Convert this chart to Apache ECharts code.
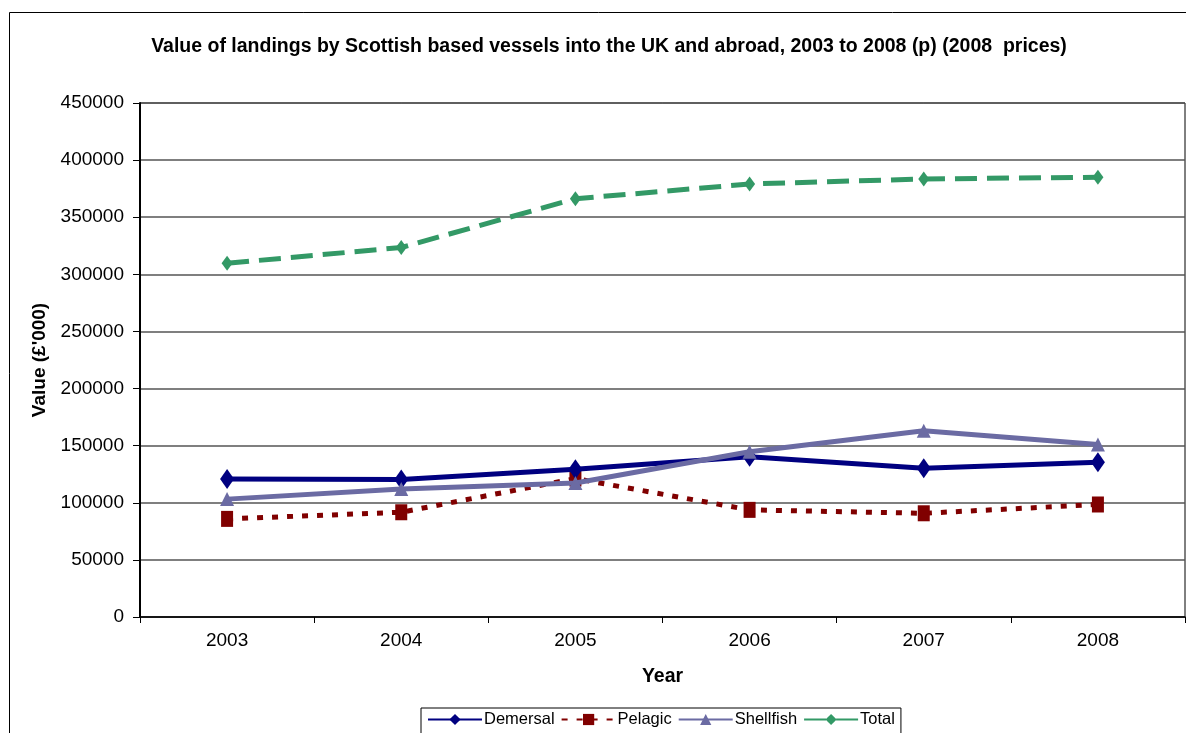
<!DOCTYPE html>
<html>
<head>
<meta charset="utf-8">
<script src="https://cdn.jsdelivr.net/npm/echarts@6/dist/echarts.min.js"></script>
<style>
html,body{margin:0;padding:0;background:#fff;}
#chart{width:1186px;height:733px;}
</style>
</head>
<body>
<div id="chart"></div>
<script>
const years = ['2003','2004','2005','2006','2007','2008'];
const demersal = [120800, 120300, 129400, 140200, 130200, 135500];
const pelagic = [85900, 91700, 121200, 93800, 90800, 98500];
const shellfish = [103200, 112000, 117300, 144600, 163100, 151100];
const total = [309700, 323500, 366200, 379100, 383500, 385000];

const FONT = '"Liberation Sans", Arial, sans-serif';
const chart = echarts.init(document.getElementById('chart'));
chart.setOption({
  animation: false,
  backgroundColor: '#fff',
  textStyle: { fontFamily: FONT },
  title: {
    text: 'Value of landings by Scottish based vessels into the UK and abroad, 2003 to 2008 (p) (2008  prices)',
    left: 604, top: 32, textAlign: 'center',
    textStyle: { fontFamily: FONT, fontSize: 19.5, fontWeight: 'bold', color: '#000' }
  },
  graphic: [{
    type: 'rect', shape: { x: 9.5, y: 12.5, width: 1200, height: 800 },
    style: { fill: 'none', stroke: '#000', lineWidth: 1 }, silent: true, z: -1
  }],
  legend: {
    left: 421, top: 708,
    itemWidth: 54, itemHeight: 14, itemGap: 6,
    borderColor: '#000', borderWidth: 1, padding: [3, 6, 8, 6],
    backgroundColor: '#fff',
    textStyle: { fontFamily: FONT, fontSize: 16.5, color: '#000', padding: [0, 0, 0, -3] },
    data: ['Demersal', 'Pelagic', 'Shellfish', 'Total']
  },
  grid: { left: 140, right: 1, top: 103, bottom: 116, show: true, borderColor: '#000', borderWidth: 1 },
  xAxis: {
    type: 'category', data: years, boundaryGap: true,
    name: 'Year', nameLocation: 'middle', nameGap: 50,
    nameTextStyle: { fontFamily: FONT, fontSize: 19.5, fontWeight: 'bold', color: '#000' },
    axisLine: { lineStyle: { color: '#000', width: 1.5 } },
    axisTick: { show: true, inside: false, length: 6, lineStyle: { color: '#000' } },
    axisLabel: { fontFamily: FONT, fontSize: 19, color: '#000', margin: 14 }
  },
  yAxis: {
    type: 'value', min: 0, max: 450000, interval: 50000,
    name: "Value (£'000)", nameLocation: 'middle', nameGap: 90, nameRotate: 90,
    nameTextStyle: { fontFamily: FONT, fontSize: 19, fontWeight: 'bold', color: '#000' },
    axisLine: { show: true, lineStyle: { color: '#000', width: 2 } },
    axisTick: { show: true, inside: false, length: 7, lineStyle: { color: '#000' } },
    axisLabel: { fontFamily: FONT, fontSize: 19, color: '#000', margin: 16, formatter: v => String(v) },
    splitLine: { show: true, lineStyle: { color: '#555', width: 1.5 } }
  },
  series: [
    {
      name: 'Demersal', type: 'line', data: demersal,
      symbol: 'diamond', symbolSize: [14, 20], showAllSymbol: true,
      itemStyle: { color: '#000080' },
      lineStyle: { color: '#000080', width: 5 }, z: 3
    },
    {
      name: 'Pelagic', type: 'line', data: pelagic,
      symbol: 'rect', symbolSize: [12, 16],
      itemStyle: { color: '#800000' },
      lineStyle: { color: '#800000', width: 5, type: [6, 9], cap: 'butt' }, z: 2
    },
    {
      name: 'Shellfish', type: 'line', data: shellfish,
      symbol: 'triangle', symbolSize: [14, 14],
      itemStyle: { color: '#6B6BA3' },
      lineStyle: { color: '#6B6BA3', width: 5 }, z: 4
    },
    {
      name: 'Total', type: 'line', data: total,
      symbol: 'diamond', symbolSize: [11, 15],
      itemStyle: { color: '#339966' },
      lineStyle: { color: '#339966', width: 5, type: [22, 10], cap: 'butt' }, z: 5
    }
  ]
});
</script>
</body>
</html>
